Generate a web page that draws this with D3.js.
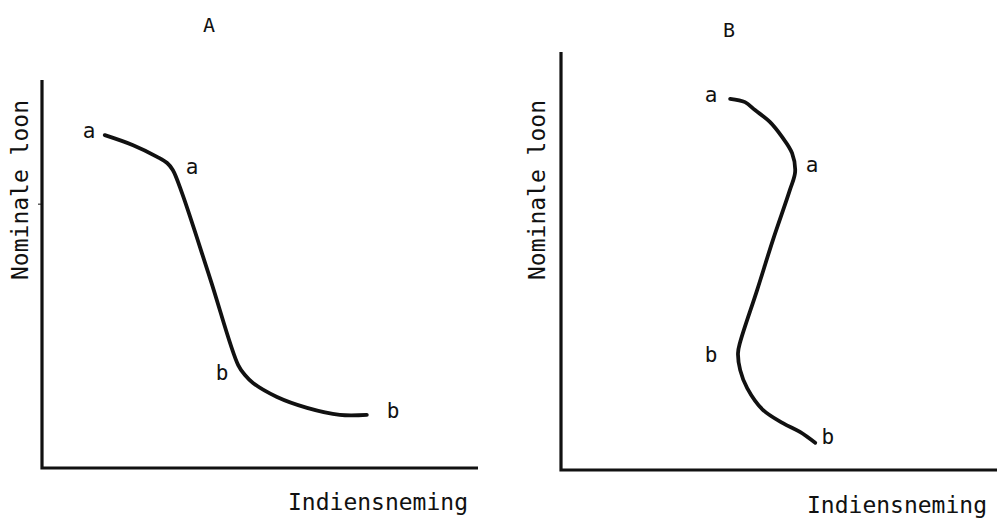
<!DOCTYPE html>
<html>
<head>
<meta charset="utf-8">
<script src="https://cdn.jsdelivr.net/npm/d3@7"></script>
<style>
  body { margin: 0; background: #fff; }
  svg { display: block; }
  text { font-family: "DejaVu Sans Mono", "Liberation Mono", monospace; fill: #111; }
</style>
</head>
<body>
<svg id="chart" width="997" height="518"></svg>
<script>

// panel titles and axis labels
const panel_titles = ['A', 'B'];
const y_label = 'Nominale loon';
const x_label = 'Indiensneming';

// curve A (x = indiensneming, y = nominale loon), 0-100 units
const curve_a_x = [14.4, 20.9, 26.4, 28.7, 30.0, 32.1, 38.6, 45.0, 46.6, 48.4, 53.9, 60.8, 68.3, 74.5];
const curve_a_y = [85.8, 83.2, 80.2, 78.6, 76.8, 70.9, 48.7, 26.5, 23.9, 21.9, 18.3, 15.5, 13.7, 13.7];

// curve B
const curve_b_x = [38.8, 42.2, 44.5, 47.9, 50.7, 53.0, 53.7, 52.5, 48.6, 45.0, 41.1, 40.6, 41.1, 42.7, 46.3, 50.9, 54.8, 58.3];
const curve_b_y = [88.8, 88.0, 86.1, 83.3, 79.7, 75.8, 71.3, 67.0, 55.0, 43.1, 30.6, 28.0, 23.9, 19.6, 14.4, 11.2, 9.1, 6.5];

// point labels
const label_a_text = ['a', 'a', 'b', 'b'];
const label_a_x = [10.8, 34.4, 41.3, 80.5];
const label_a_y = [86.9, 77.6, 24.5, 14.9];
const label_b_text = ['a', 'a', 'b', 'b'];
const label_b_x = [34.4, 57.6, 34.4, 61.2];
const label_b_y = [89.7, 73.0, 27.5, 7.9];

const svg = d3.select('#chart');

const panels = [
	{ title: panel_titles[0], x0: 42, x1: 478, y0: 468, y1: 80, tx: 209, ty: 32, ylx: 28, yly: 190, xlx: 288, xly: 510,
	  cx: curve_a_x, cy: curve_a_y, lt: label_a_text, lx: label_a_x, ly: label_a_y, ticks: [68] },
	{ title: panel_titles[1], x0: 561, x1: 997, y0: 470, y1: 52, tx: 729, ty: 37, ylx: 545, yly: 190, xlx: 807, xly: 513,
	  cx: curve_b_x, cy: curve_b_y, lt: label_b_text, lx: label_b_x, ly: label_b_y, ticks: [] }
];

const draw_panel = function(p){

	const x = d3.scaleLinear().domain([0,100]).range([p.x0, p.x1]);
	const y = d3.scaleLinear().domain([0,100]).range([p.y0, p.y1]);

	const g = svg.append('g').attr('class','panel');

	// axes drawn as plain thick lines
	g.append('path')
		.attr('d', `M${x(0)},${y(100)}L${x(0)},${y(0)}L${x(100)},${y(0)}`)
		.attr('fill','none')
		.attr('stroke','#111')
		.attr('stroke-width',3.2)
		.attr('stroke-linejoin','miter');

	// small stray ticks on the y axis
	g.selectAll('.ytick')
		.data(p.ticks)
		.enter()
	.append('line')
		.attr('class','ytick')
		.attr('x1', x(0) - 4)
		.attr('x2', x(0))
		.attr('y1', d => y(d))
		.attr('y2', d => y(d))
		.attr('stroke','#111')
		.attr('stroke-width',1);

	const pts = p.cx.map((v,i) => [v, p.cy[i]]);
	const line = d3.line()
		.x(d => x(d[0]))
		.y(d => y(d[1]))
		.curve(d3.curveCatmullRom.alpha(0.5));

	g.append('path')
		.attr('d', line(pts))
		.attr('fill','none')
		.attr('stroke','#111')
		.attr('stroke-width',3.8)
		.attr('stroke-linecap','round')
		.attr('stroke-linejoin','round');

	g.selectAll('.pt-label')
		.data(p.lt)
		.enter()
	.append('text')
		.attr('class','pt-label')
		.attr('x', (d,i) => x(p.lx[i]))
		.attr('y', (d,i) => y(p.ly[i]))
		.attr('dy','.35em')
		.attr('text-anchor','middle')
		.attr('font-size',21)
		.text(d => d);

	g.append('text')
		.attr('x', p.tx)
		.attr('y', p.ty)
		.attr('text-anchor','middle')
		.attr('font-size',20)
		.text(p.title);

	g.append('text')
		.attr('transform', `translate(${p.ylx},${p.yly}) rotate(-90)`)
		.attr('text-anchor','middle')
		.attr('font-size',23)
		.text(y_label);

	g.append('text')
		.attr('x', p.xlx)
		.attr('y', p.xly)
		.attr('font-size',23)
		.text(x_label);
};

panels.forEach(draw_panel);

</script>
</body>
</html>
